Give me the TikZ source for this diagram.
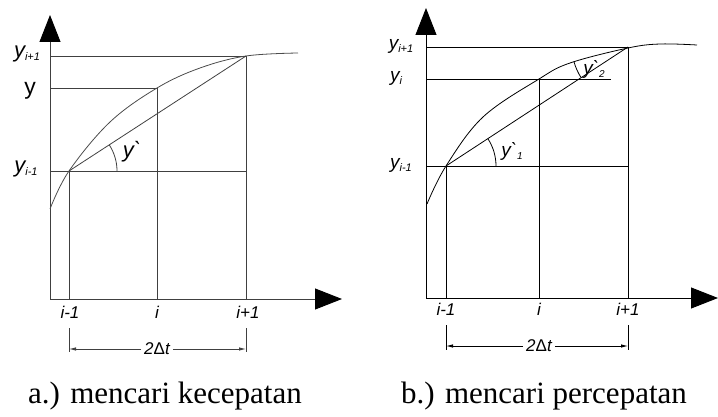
\documentclass[tikz,border=0pt]{standalone}
\usepackage{fontspec}
\setmainfont{Liberation Serif}
\setsansfont{Liberation Sans}
\usetikzlibrary{arrows.meta}

\newcommand{\ysub}[1]{y\raisebox{-3pt}{\fontsize{11}{11}\selectfont #1}}

\begin{document}
\begin{tikzpicture}[x=1pt,y=1pt,
  grid/.style={line width=0.8pt,black!75},
  axis/.style={line width=0.9pt,black!75,-{Triangle[length=27pt,width=21pt,color=black,fill=black]}},
  curve/.style={line width=0.8pt,black!70,smooth,tension=0.6},
  dim/.style={line width=0.8pt,black!75,-{Latex[length=7pt,width=3.5pt]}},
  lab/.style={font=\sffamily\itshape\fontsize{17}{17}\selectfont,inner sep=0pt},
  ylab/.style={font=\sffamily\itshape\fontsize{22}{22}\selectfont,inner sep=0pt},
  dimlab/.style={font=\sffamily\itshape\fontsize{17}{17}\selectfont,inner sep=3pt,fill=white},
  caption/.style={font=\fontsize{31}{31}\selectfont,inner sep=0pt},
]
  \useasboundingbox (0,0) rectangle (718,-417);

  % Plot a (left)
  \coordinate (aO) at (50,-299);
  \coordinate (aA) at (69,-171);
  \coordinate (aB) at (157,-88);
  \coordinate (aC) at (246,-56);
  \coordinate (aYtip) at (50,-15);
  \coordinate (aXtip) at (342,-299);

  \draw[axis] (aO) -- (aYtip);
  \draw[axis] (aO) -- (aXtip);

  % grid lines
  \draw[grid] (aO |- aC) -- (aC) -- (aC |- aO);
  \draw[grid] (aO |- aB) -- (aB) -- (aB |- aO);
  \draw[grid] (aO |- aA) -- (aA -| aC);
  \draw[grid] (aA) -- (aA |- aO);

  % curve and chord
  \draw[curve] plot coordinates {(50,-209) (69,-171) (110,-122) (157,-88)
    (200,-68) (246,-56) (298,-53)};
  \draw[grid] (aA) -- (aC);
  \draw[grid] ([xshift=48pt]aA) arc[start angle=0,end angle=33,radius=48pt];
  \node[ylab] (aAng) at (132,-152) {y\textasciigrave};

  % y labels
  \node[ylab] (aYp) at (27,-54) {\ysub{i+1}};
  \node[font=\sffamily\fontsize{23}{23}\selectfont,inner sep=0pt] (aY) at (30,-91) {y};
  \node[ylab] (aYm) at (26,-169) {\ysub{i-1}};

  % x labels
  \node[lab] (aXm) at (70,-312) {i-1};
  \node[lab] (aXi) at (157,-312) {i};
  \node[lab] (aXp) at (248,-312) {i+1};

  % 2 delta t
  \coordinate (aDL) at (69,-349);
  \coordinate (aDR) at (246,-349);
  \node[dimlab] (aDim) at (157,-349) {2\textup{Δ}t};
  \draw[grid] ([yshift=21pt]aDL) -- ([yshift=-3pt]aDL);
  \draw[grid] ([yshift=21pt]aDR) -- ([yshift=-3pt]aDR);
  \draw[dim] (aDim) -- (aDL);
  \draw[dim] (aDim) -- (aDR);

  \node[caption] (capA) at (165,-396) {a.) mencari kecepatan};

  % Plot b (right)
  \coordinate (bO) at (426,-298);
  \coordinate (bA) at (446,-166);
  \coordinate (bB) at (539,-79);
  \coordinate (bC) at (628,-47);
  \coordinate (bYiEnd) at (611,-79);
  \coordinate (bYtip) at (426,-8);
  \coordinate (bXtip) at (718,-298);

  \draw[axis,black] (bO) -- (bYtip);
  \draw[axis,black] (bO) -- (bXtip);

  % grid lines
  \draw[grid,black] (bO |- bC) -- (bC) -- (bC |- bO);
  \draw[grid,black] (bO |- bB) -- (bYiEnd);
  \draw[grid,black] (bB) -- (bB |- bO);
  \draw[grid,black] (bO |- bA) -- (bA -| bC);
  \draw[grid,black] (bA) -- (bA |- bO);

  % curve, chord and angles
  \draw[curve,black] plot coordinates {(427,-204) (446,-166) (483,-117)
    (539,-79) (570,-63) (628,-48) (660,-44) (697,-45)};
  \draw[grid,black] (bA) -- (bC);
  \draw[grid,black] ([xshift=50pt]bA) arc[start angle=0,end angle=33,radius=50pt];
  \draw[grid,black] (bC) ++(195:56pt) arc[start angle=195,end angle=213,radius=56pt];
  \node[ylab,font=\sffamily\itshape\fontsize{19}{19}\selectfont] (bAng1) at (512,-151)
    {y\textasciigrave\raisebox{-3pt}{\fontsize{10}{10}\selectfont 1}};
  \node[ylab,font=\sffamily\itshape\fontsize{19}{19}\selectfont] (bAng2) at (594,-69)
    {y\textasciigrave\raisebox{-3pt}{\fontsize{10}{10}\selectfont 2}};

  % y labels
  \node[ylab,font=\sffamily\itshape\fontsize{19}{19}\selectfont] (bYp) at (401,-46) {\ysub{i+1}};
  \node[ylab,font=\sffamily\itshape\fontsize{19}{19}\selectfont] (bYi) at (396,-78) {\ysub{i}};
  \node[ylab,font=\sffamily\itshape\fontsize{19}{19}\selectfont] (bYm) at (401,-165) {\ysub{i-1}};

  % x labels
  \node[lab] (bXm) at (446,-309) {i-1};
  \node[lab] (bXi) at (539,-309) {i};
  \node[lab] (bXp) at (628,-309) {i+1};

  % 2 delta t
  \coordinate (bDL) at (446,-346);
  \coordinate (bDR) at (628,-346);
  \node[dimlab] (bDim) at (539,-346) {2\textup{Δ}t};
  \draw[grid,black] ([yshift=21pt]bDL) -- ([yshift=-4pt]bDL);
  \draw[grid,black] ([yshift=21pt]bDR) -- ([yshift=-4pt]bDR);
  \draw[dim,black] (bDim) -- (bDL);
  \draw[dim,black] (bDim) -- (bDR);

  \node[caption] (capB) at (544,-396) {b.) mencari percepatan};
\end{tikzpicture}
\end{document}
